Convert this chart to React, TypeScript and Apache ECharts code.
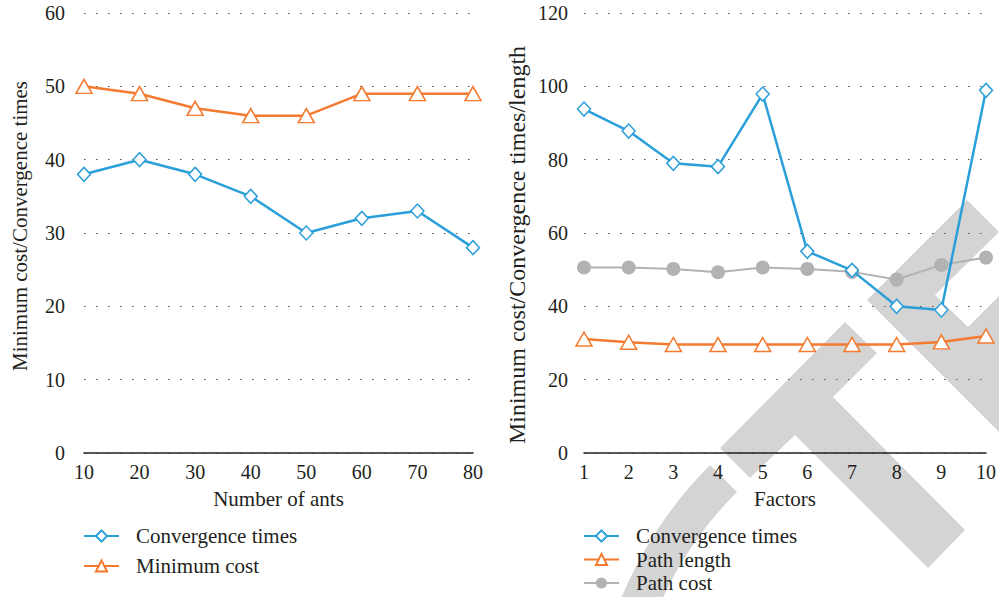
import React, { useEffect, useRef } from "react";
import * as echarts from "echarts";

const antCategories = ["10", "20", "30", "40", "50", "60", "70", "80"];
const antConvergence = [38, 40, 38, 35, 30, 32, 33, 28];
const antMinCost = [50, 49, 47, 46, 46, 49, 49, 49];

const factorCategories = ["1", "2", "3", "4", "5", "6", "7", "8", "9", "10"];
const factorConvergence = [93.8, 87.8, 79, 78.1, 97.9, 55, 49.8, 40, 39, 98.9];
const factorPathLength = [31.1, 30.2, 29.6, 29.6, 29.6, 29.6, 29.6, 29.6, 30.3, 31.9];
const factorPathCost = [50.6, 50.6, 50.2, 49.3, 50.6, 50.2, 49.4, 47.3, 51.3, 53.3];

const BLUE = "#2a9fd9";
const ORANGE = "#f47a2f";
const GRAY = "#b1b2b4";
const TEXT = "#231f20";
const FONT = "'Liberation Serif', 'DejaVu Serif', serif";
const WM = "#d4d4d4";

export default function App() {
  const ref = useRef<HTMLDivElement>(null);
  useEffect(() => {
    if (!ref.current) return;
    const chart = echarts.init(ref.current, null, { renderer: "svg" });

    const xAxisBase = (idx: number, data: string[], name: string) => ({
      type: "category",
      gridIndex: idx,
      data,
      boundaryGap: false,
      name,
      nameLocation: "middle",
      nameGap: 35,
      nameTextStyle: { fontSize: 21, color: TEXT, fontFamily: FONT },
      axisLine: { show: true, lineStyle: { color: "#231f20", width: 1.5 } },
      axisTick: { show: false },
      axisLabel: { fontSize: 20, color: TEXT, fontFamily: FONT, margin: 9 },
      splitLine: { show: false },
    });

    const yAxisBase = (
      idx: number,
      max: number,
      interval: number,
      name: string,
      nameSize: number,
      gap: number,
      margin: number,
      namePadding: number[]
    ) => ({
      type: "value",
      gridIndex: idx,
      min: 0,
      max,
      interval,
      name,
      nameLocation: "middle",
      nameGap: gap,
      nameTextStyle: { fontSize: nameSize, color: TEXT, fontFamily: FONT, padding: namePadding },
      axisLine: { show: false },
      axisTick: { show: false },
      axisLabel: { fontSize: 20, color: TEXT, fontFamily: FONT, margin },
      splitLine: { show: true, lineStyle: { color: "#555", width: 1.2, type: [1.5, 10.5] } },
    });

    const convStyle = {
      type: "line",
      symbol: "diamond",
      symbolSize: [13, 14],
      itemStyle: { color: "#fff", borderColor: BLUE, borderWidth: 1.5 },
      lineStyle: { color: BLUE, width: 2.5 },
      color: BLUE,
    };
    const triStyle = {
      type: "line",
      symbol: "triangle",
      symbolSize: [16, 14],
      itemStyle: { color: "#fff", borderColor: ORANGE, borderWidth: 1.5 },
      lineStyle: { color: ORANGE, width: 2.5 },
      color: ORANGE,
    };

    const legendBase = {
      orient: "vertical",
      padding: 0,
      itemWidth: 35,
      itemHeight: 14,
      textStyle: { fontSize: 21, color: TEXT, fontFamily: FONT, lineHeight: 22, padding: [0, 0, 0, 12] },
      selectedMode: false,
    };

    chart.setOption({
      animation: false,
      backgroundColor: "#fff",
      graphic: {
        elements: [
          {
            type: "polygon",
            z: -1,
            shape: { points: [[720, 448], [845, 322], [877, 353], [833, 397], [965, 530], [928, 568], [795, 435], [750, 478]] },
            style: { fill: WM },
          },
          {
            type: "polygon",
            z: -1,
            shape: { points: [[867, 300], [967, 200], [999, 232], [935, 295], [968, 327], [999, 296], [999, 432]] },
            style: { fill: WM },
          },
          {
            type: "sector",
            z: -1,
            shape: { cx: 1000, cy: 755, r: 410, r0: 372, startAngle: Math.PI, endAngle: Math.PI * 1.25, clockwise: true },
            style: { fill: WM },
          },
        ],
      },
      grid: [
        { left: 84, top: 13, width: 389, height: 440 },
        { left: 584, top: 13, width: 402, height: 440 },
      ],
      xAxis: [
        xAxisBase(0, antCategories, "Number of ants"),
        xAxisBase(1, factorCategories, "Factors"),
      ],
      yAxis: [
        yAxisBase(0, 60, 10, "Minimum cost/Convergence times", 21, 54, 19, [0, 0, 0, 14]),
        yAxisBase(1, 120, 20, "Minimum cost/Convergence times/length", 24, 55, 16, [0, 24, 0, 0]),
      ],
      legend: [
        { ...legendBase, left: 83, top: 525, itemGap: 8, data: ["Convergence times", "Minimum cost"] },
        { ...legendBase, left: 583, top: 525, itemGap: 1.5, data: ["Convergence times", "Path length", "Path cost"] },
      ],
      series: [
        { ...convStyle, name: "Convergence times", xAxisIndex: 0, yAxisIndex: 0, data: antConvergence },
        { ...triStyle, name: "Minimum cost", xAxisIndex: 0, yAxisIndex: 0, data: antMinCost },
        { ...convStyle, name: "Convergence times", xAxisIndex: 1, yAxisIndex: 1, data: factorConvergence },
        { ...triStyle, name: "Path length", xAxisIndex: 1, yAxisIndex: 1, data: factorPathLength },
        {
          type: "line",
          name: "Path cost",
          xAxisIndex: 1,
          yAxisIndex: 1,
          data: factorPathCost,
          symbol: "circle",
          symbolSize: 14,
          itemStyle: { color: GRAY },
          lineStyle: { color: GRAY, width: 2 },
          color: GRAY,
          z: 1,
        },
      ],
    });
    return () => chart.dispose();
  }, []);
  return <div ref={ref} style={{ width: 999, height: 597, position: "fixed", left: 0, top: 0 }} />;
}
